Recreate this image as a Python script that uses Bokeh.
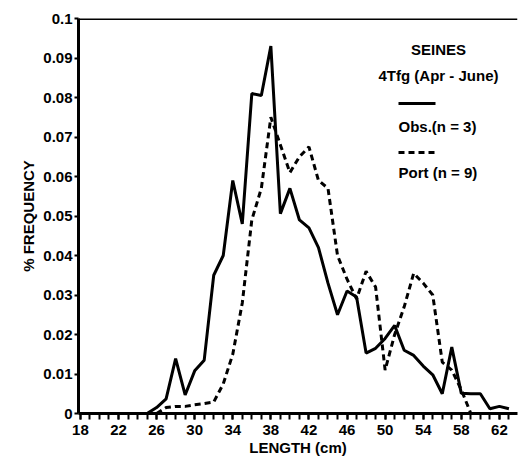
from bokeh.plotting import figure
from bokeh.models import Range1d, FixedTicker, CustomJSTickFormatter, Label, Arrow, Span
from bokeh.embed import file_html
from bokeh.resources import INLINE

# Observer samples (solid line)
obs_length = list(range(25, 64))
obs_freq = [0.0, 0.0015, 0.0037, 0.0139, 0.0047, 0.0108, 0.0135, 0.035, 0.040, 0.059,
            0.048, 0.081, 0.0805, 0.093, 0.0506, 0.057, 0.049, 0.047, 0.042, 0.033,
            0.025, 0.031, 0.0295, 0.0153, 0.0165, 0.019, 0.0223, 0.016, 0.0147, 0.012,
            0.0098, 0.005, 0.0168, 0.0051, 0.005, 0.005, 0.0012, 0.0018, 0.0012]

# Port samples (dashed line)
port_length = list(range(26, 60))
port_freq = [0.0, 0.0015, 0.0018, 0.0018, 0.0022, 0.0025, 0.0029, 0.0075, 0.015, 0.028,
             0.049, 0.057, 0.075, 0.068, 0.061, 0.065, 0.0675, 0.059, 0.057, 0.040,
             0.034, 0.029, 0.036, 0.032, 0.011, 0.020, 0.027, 0.0355, 0.033, 0.030,
             0.013, 0.011, 0.006, 0.0]

x_major_ticks = [18, 22, 26, 30, 34, 38, 42, 46, 50, 54, 58, 62]
x_minor_ticks = list(range(18, 64))
y_ticks = [0.0, 0.01, 0.02, 0.03, 0.04, 0.05, 0.06, 0.07, 0.08, 0.09, 0.1]

FONT = "Liberation Sans"

p = figure(width=518, height=460, output_backend="svg", toolbar_location=None,
           x_range=Range1d(17.8, 63.9), y_range=Range1d(0, 0.1),
           min_border_left=78, min_border_right=1, min_border_top=18, min_border_bottom=47)
p.grid.visible = False
p.outline_line_color = None
p.background_fill_color = "white"
p.border_fill_color = "white"

p.line(obs_length, obs_freq, line_width=3, color="black")
p.line(port_length, port_freq, line_width=3, color="black", line_dash="6 4")

# top frame line
p.add_layout(Span(location=0.1, dimension="width", line_color="black", line_width=3))

for ax in (p.xaxis[0], p.yaxis[0]):
    ax.axis_line_width = 3
    ax.axis_line_color = "black"
    ax.major_tick_in = 0
    ax.minor_tick_in = 0
    ax.major_tick_line_width = 2
    ax.minor_tick_line_width = 2
    ax.major_label_text_font = FONT
    ax.major_label_text_font_style = "bold"
    ax.major_label_text_font_size = "15px"
    ax.major_label_text_color = "black"
    ax.axis_label_text_font = FONT
    ax.axis_label_text_font_style = "bold"
    ax.axis_label_text_font_size = "15px"
    ax.axis_label_text_color = "black"

p.xaxis.ticker = FixedTicker(ticks=x_major_ticks, minor_ticks=x_minor_ticks)
p.xaxis.major_tick_out = 6
p.xaxis.minor_tick_out = 6
p.xaxis.major_label_standoff = 5
p.xaxis.axis_label = "LENGTH (cm)"
p.xaxis.axis_label_standoff = 1

p.yaxis.ticker = FixedTicker(ticks=y_ticks, minor_ticks=[])
p.yaxis.formatter = CustomJSTickFormatter(
    code="var s = tick.toFixed(2); s = s.replace(/0+$/, ''); s = s.replace(/\\.$/, ''); return s;")
p.yaxis.major_tick_out = 4
p.yaxis.minor_tick_out = 0
p.yaxis.major_label_standoff = 2
p.yaxis.axis_label = "% FREQUENCY"
p.yaxis.axis_label_standoff = 3

# legend block (screen units relative to frame, y from bottom)
def lab(text, x, y, align):
    p.add_layout(Label(x=x, y=y, x_units="screen", y_units="screen", text=text,
                       text_font=FONT, text_font_style="bold", text_font_size="15px",
                       text_align=align, text_baseline="middle", text_color="black"))

lab("SEINES", 360, 364, "center")
lab("4Tfg (Apr - June)", 360, 338, "center")
p.add_layout(Arrow(end=None, x_start=320, y_start=310, x_end=357, y_end=310,
                   start_units="screen", end_units="screen", line_width=3, line_color="black"))
lab("Obs.(n = 3)", 320, 287, "left")
p.add_layout(Arrow(end=None, x_start=320, y_start=261, x_end=356, y_end=261,
                   start_units="screen", end_units="screen", line_width=3, line_color="black",
                   line_dash="6 4"))
lab("Port (n = 9)", 320, 241, "left")

open("out.html", "w").write(file_html(p, INLINE))
